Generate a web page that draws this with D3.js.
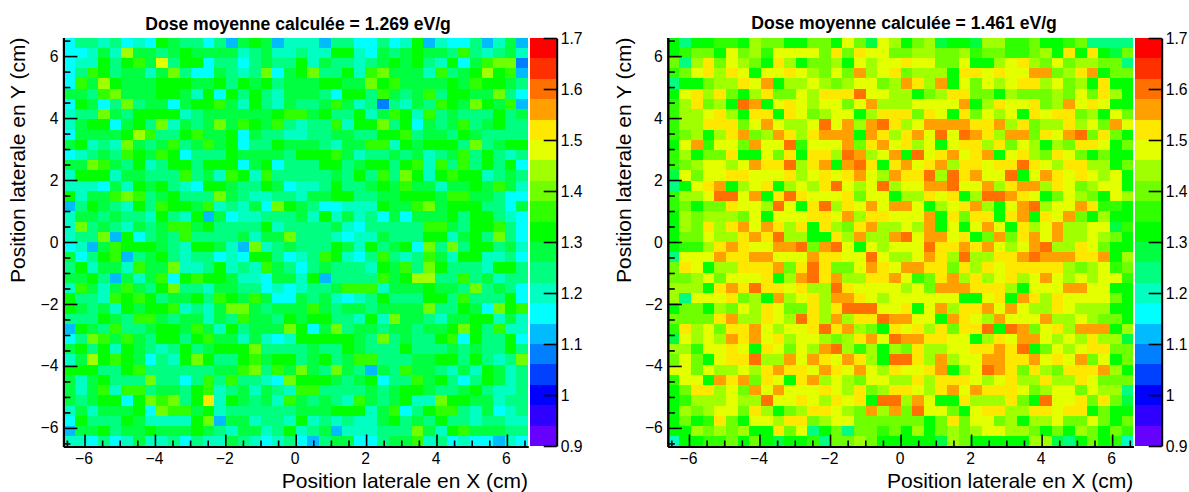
<!DOCTYPE html>
<html>
<head>
<meta charset="utf-8">
<script src="https://cdn.jsdelivr.net/npm/d3@7/dist/d3.min.js"></script>
<style>
html,body{margin:0;padding:0;background:#fff;}
svg{display:block;font-family:"Liberation Sans",Arial,sans-serif;}
</style>
</head>
<body>
<script>
// Each row (top to bottom) holds 40 palette bin codes, base 36: a bin k covers 0.9+0.04k .. 0.94+0.04k
const doseLeftRows = [
"68878676a9886859a9577758866867a576685795","66797d9989a999978977877aa76989a998b87897",
"677a8ab9e8aa68868988a7988789a9a87a69bcc4","68ba89979c8669878c69ac88a7bc9997b89adab5",
"6b9da999aaa99a8a9a8999aa99cab9999a9baa98","998bc999aa97a6a8a8799986aa8b989b8aa99c86",
"6a968c89969aab97a879889b97848798ba9ca9b5","788c98aaaa78999999abb9a88a79ba7b89888a89",
"79aa69a8c7989c9ba9b8788b7aac8a6989b89a88","69999adb88ab99a698877889988aab8998a98888",
"9a787c989b89b9a688a9998799bb7a9aaa8c89aa","67898ba9ba6888a99998aaab9788989789b8a878",
"99cb98a78aa8aaa69a6888aa89aa8ab7b8b8a8a6","7aaa799888b897ba7b8888898a8b8ca7abaa7898",
"777697a9a876aa988a96778a889a9b99799a9b97","a799bcb89a888c987788799aa8899aaa9bb99866",
"58a987a8baa9b78796ca9866777a99bc9aaa8869","79989887a87a5967788897a7978696999a8aa876",
"7c8987989bb9a8888a7888897688888bb98aab86","788c5a6898b88889799c88876779888aa79a8c86",
"6759baaa987aa975c789888a97a89a6c8c8aa897","968ab589a8788676aa8678ba768b878b97aa7786",
"8a7997b99c778a787b986898887a9b8ca8887aa8","99a85979b6abaa9776997a58888b9add88b89788",
"7b979b98ac88799886767889bbb7999a998c8986","a887baba899a8ba9b9669897678a888aa8b888a6",
"a9897a9aab7879cc98999b989989999c88a96cab","888a98bb9899798b998a9aa887a7c998799aa797",
"5a98b889aa9b97a8999ca69c899899899aca8b77","68cb9b98aa8ab9979767aaaaa98c8988ab6a88a6",
"9a8a7a9878a89aaac8888988a9888a88898988a8","79daba9687aca88ab9aa89a89bb88899aa8a878c",
"aaa88ab88888899bc8b9c98c98598b998797a978","979a888c8868b8b8876caaa989a688b9a868a978",
"979b7bb8998ab7897987bb8888989aa9889a8778","989aa6acbc8af7a9897b98987b989a77caa99788",
"797999a6cbb9a7888888999aaa79b68abb879678","6a888a97777ac5997887a7878779a898a8878877",
"599a899a999a9879978a7895777888c97ab99988","776867977868779876786589966899b786766576"
];
const doseRightRows = [
"a8aabbadccaaccaec9edacd9aa9ddbbcaabc8888","abccaecdbeeeecfcfeeccddccdbccbbcdafafa9c",
"c8dfcedcafdaccdaedeefeecceaadefdcecddcc8","bcefdfeaeefedcecgdefcdddaffefeeggcdfgacc",
"8aacddfegaddedcdeecdgfdgaecedeffdecdafaa","aefdfcadfccedfffheeddacdffccadcccdcecfda",
"bdfcdahgaefedeecegdddeeeegadfeefcdgefeaa","bddefdaffafecdeeadfffcfeafcedeafeffcdaec",
"bddfffcegeddehegdghfdeggggffgdfcddfdecge","bcdadfgcdgfdfgggagfdfgehehgfdggcfeghcfca",
"aegbeecgeehbeeegcfgefdeaeffdfcedadcffeac","bdaccfaaecfaffdhgdegahefgefgaefdcfecacaa",
"bcdeedegffhdfgaghfafgefgdffeffhfedffddac","9eceeffeeefdefefgedgffhdhfgeehaegfefedea",
"8aefgadefadedfhedehdeeggheegdfggdfecdeea","bddehhegafhfeeefceeaddfefadhhgfeacedcaed",
"bcaccfeedheafhdfegeggeadefgdaeghdeegfbba","adcdddceaeeeffegdffeeegafcffafgafegcadaa",
"adcfdfgegfdfafdcfgddedgaeaegeafdegddee9b","acceddfgfhddaafdgddgheggefacgcfgegddedca",
"abbdfgfeegghcgheaedeeehffgfgedeghddfecaa","8eeegffggeeegffeeheddegfdhddffghgggffgad",
"cfeaddfffgcfhfccegfeggffcfdfefffffdcdebc","ccdeceeefadghfgddffgebcfgdfdefdegededeeb",
"dddafgfhffefddhfeeeedecgggfffdaeeeggeeaa","d8eeefcdagdefdggfedeeeeeeaaefagfdfeeeeca",
"accadcedfeccfdfhhheefaegdffgegeddfedddaa","ccccfgddfedhfdgdffhggeeagfedgeeegddedcca",
"bfdecffgedeefhfgdcafefdfcffhahgcefdgggad","9ededgfgefdeedcdfgehggffeeadfeggededfdd9",
"ddbeefeafecedghdbdadcfddeeffgfhacedeffcc","cecaeffhddgegfegfdahhfdgdeeggffgefegceac",
"eeceddedfgffegfegedfeefgadehgfcfdcfffgda","beeagfgcfeafgdedceeddfdfffedefddfddfeccc",
"acffdecgegeeefedfcdffedfgegfffecdeecedd8","abdddeddheefedfefahhdgeaafdddfcaheefcfc9",
"adcdeecfdacdffedcgdgcheecaeffddffeffacaa","acabfcaeedffcdeeccccccacfceecdaddeccecac",
"aadcdcdaafce8ac8ccbcadacdcdeeddcacadcacb","7aabbcaca9aab8ccdcaaaaa9dcaaaaadd98acab7"
];
const paletteColors = ["#6600ff","#3000ff","#0000ff","#0040ff","#0080ff","#00bcff","#00ffff","#00ffc0","#00ff80","#00ff40",
"#00ff00","#30ff00","#70ff00","#a0ff00","#e4ff00","#ffe800","#ffa000","#ff7000","#ff3000","#ff0000"];
const panelTitles = ["Dose moyenne calculée = 1.269 eV/g","Dose moyenne calculée = 1.461 eV/g"];
const xTitle = "Position laterale en X (cm)";
const yTitle = "Position laterale en Y (cm)";
const majorTicks = [-6,-4,-2,0,2,4,6];
const minorTicks = [-6.5,-5.5,-5,-4.5,-3.5,-3,-2.5,-1.5,-1,-0.5,0.5,1,1.5,2.5,3,3.5,4.5,5,5.5,6.5];
const colorTicks = [0.9,1,1.1,1.2,1.3,1.4,1.5,1.6,1.7];
const binEdges = d3.range(41).map(i => -6.6 + i*0.33);
const zMin = 0.9, zStep = 0.04;

const layouts = [
  {left:63.4, right:528, barL:530, barR:556.7, titleX:298, titleY:30, yLabelX:25, data:doseLeftRows},
  {left:667.8, right:1133.3, barL:1135, barR:1161.7, titleX:904, titleY:29, yLabelX:631, data:doseRightRows}
];
const plotTop = 37.5, plotBottom = 446.5;

const svg = d3.select("body").append("svg").attr("width",1189).attr("height",492);
const color = d3.scaleThreshold()
  .domain(d3.range(1,20).map(i => zMin + i*zStep))
  .range(paletteColors);

layouts.forEach((p,pi) => {
  const x = d3.scaleLinear().domain([-6.6,6.6]).range([p.left,p.right]);
  const y = d3.scaleLinear().domain([-6.6,6.6]).range([plotBottom,plotTop]);
  const z = d3.scaleLinear().domain([0.9,1.7]).range([plotBottom-0.5,plotTop+0.5]);
  const g = svg.append("g");
  const cells = [];
  p.data.forEach((row,r) => {
    for (let c=0;c<40;c++) {
      cells.push({c, r, v: zMin + (parseInt(row[c],36)+0.5)*zStep});
    }
  });
  g.selectAll("rect.cell").data(cells).join("rect").attr("class","cell")
    .attr("shape-rendering","crispEdges")
    .attr("x", d => x(binEdges[d.c]))
    .attr("width", d => x(binEdges[d.c+1]) - x(binEdges[d.c]))
    .attr("y", d => y(binEdges[40-d.r]))
    .attr("height", d => y(binEdges[39-d.r]) - y(binEdges[40-d.r]))
    .attr("fill", d => color(d.v));

  // colour bar
  g.selectAll("rect.bar").data(paletteColors).join("rect").attr("class","bar")
    .attr("shape-rendering","crispEdges")
    .attr("x", p.barL).attr("width", p.barR-p.barL)
    .attr("y", (d,i) => z(zMin+(i+1)*zStep))
    .attr("height", (d,i) => z(zMin+i*zStep)-z(zMin+(i+1)*zStep))
    .attr("fill", d => d);

  const styleAxis = a => {
    a.selectAll("text").attr("fill","#000").style("font-size","15.7px");
    a.selectAll("line").attr("stroke","#000").attr("stroke-width",1.6);
    a.select(".domain").attr("stroke","#000").attr("stroke-width",2);
    a.attr("font-family",null);
  };
  // x axis
  const ax = g.append("g").attr("transform",`translate(0,${plotBottom})`)
    .call(d3.axisBottom(x).tickValues(majorTicks).tickSize(-12).tickSizeOuter(0).tickPadding(5));
  ax.selectAll("text").attr("dy","1em").attr("y",2).attr("dx",-1);
  styleAxis(ax);
  const axm = g.append("g").attr("transform",`translate(0,${plotBottom})`)
    .call(d3.axisBottom(x).tickValues(minorTicks).tickSize(-6).tickSizeOuter(0).tickFormat(""));
  styleAxis(axm);
  // y axis
  const ay = g.append("g").attr("transform",`translate(${p.left},0)`)
    .call(d3.axisLeft(y).tickValues(majorTicks).tickSize(-14).tickSizeOuter(0).tickPadding(5));
  styleAxis(ay);
  const aym = g.append("g").attr("transform",`translate(${p.left},0)`)
    .call(d3.axisLeft(y).tickValues(minorTicks).tickSize(-7).tickSizeOuter(0).tickFormat(""));
  styleAxis(aym);
  // colour axis
  const az = g.append("g").attr("transform",`translate(${p.barR},0)`)
    .call(d3.axisRight(z).tickValues(colorTicks).tickSize(-13).tickSizeOuter(0).tickPadding(4)
      .tickFormat(d => String(+d.toFixed(1))));
  styleAxis(az);
  az.selectAll("text").attr("x",4);

  svg.append("text").attr("x",p.titleX).attr("y",p.titleY).attr("text-anchor","middle")
    .style("font-weight","bold").style("font-size","17.6px").text(panelTitles[pi]);
  svg.append("text").attr("x",p.right).attr("y",488).attr("text-anchor","end")
    .style("font-size","21px").text(xTitle);
  svg.append("text").attr("transform",`translate(${p.yLabelX},${plotTop}) rotate(-90)`).attr("text-anchor","end")
    .style("font-size","21px").text(yTitle);
});
</script>
</body>
</html>
